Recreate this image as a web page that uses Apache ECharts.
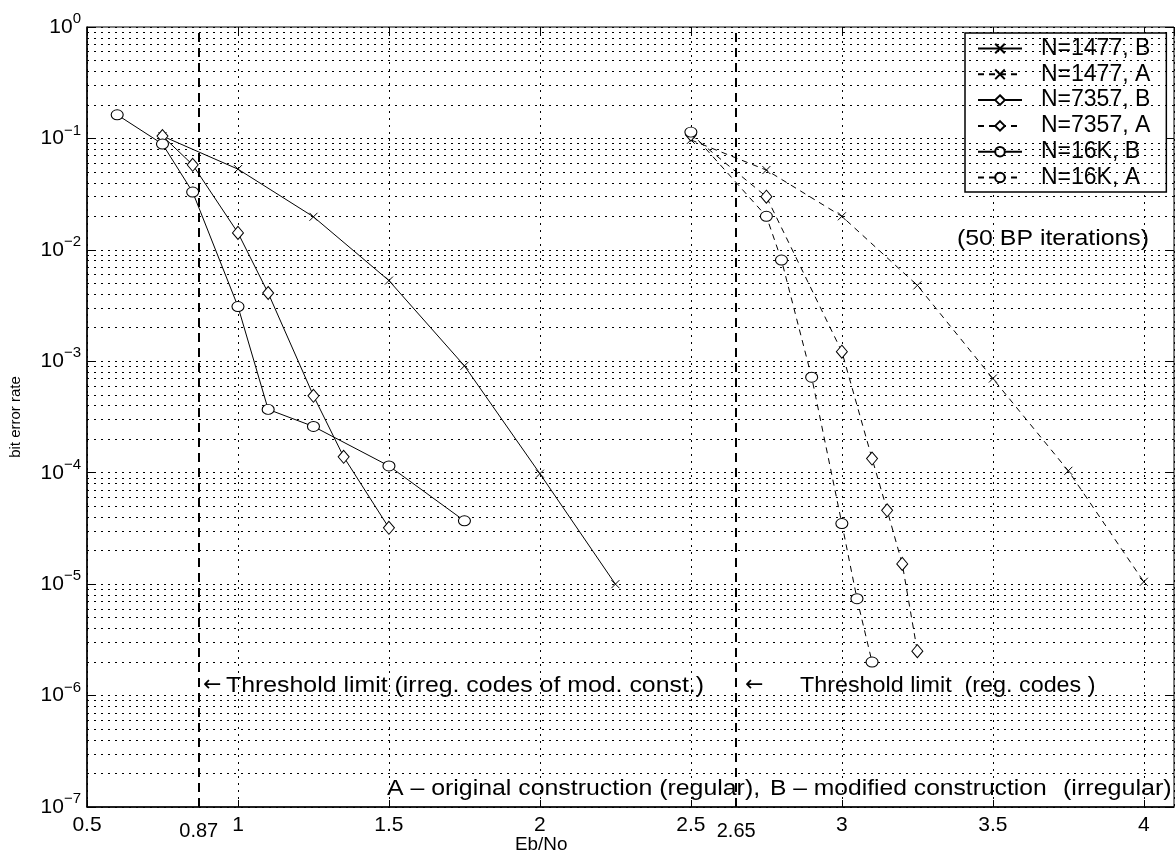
<!DOCTYPE html>
<html><head><meta charset="utf-8">
<script src="https://cdn.jsdelivr.net/npm/echarts@6/dist/echarts.min.js"></script>
<style>html,body{margin:0;padding:0;background:#fff}#c{width:1176px;height:855px}</style>
</head><body><div id="c"></div>
<script>
// ---- data ----
const seriesNames = ['N=1477, B','N=1477, A','N=7357, B','N=7357, A','N=16K, B','N=16K, A'];
const x1477B = [0.75,1.0,1.25,1.5,1.75,2.0,2.25];
const y1477B = [0.105,0.053,0.0198,0.0053,0.00091,9.8e-5,1.0e-5];
const x1477A = [2.5,2.75,3.0,3.25,3.5,3.75,4.0];
const y1477A = [0.097,0.052,0.020,0.0048,0.0007,1.04e-4,1.05e-5];
const x7357B = [0.75,0.85,1.0,1.1,1.25,1.35,1.5];
const y7357B = [0.105,0.058,0.0142,0.0041,0.00049,1.39e-4,3.2e-5];
const x7357A = [2.5,2.75,3.0,3.1,3.15,3.2,3.25];
const y7357A = [0.108,0.030,0.00122,1.34e-4,4.6e-5,1.52e-5,2.5e-6];
const x16KB = [0.6,0.75,0.85,1.0,1.1,1.25,1.5,1.75];
const y16KB = [0.163,0.089,0.033,0.0031,0.00037,0.00026,1.15e-4,3.7e-5];
const x16KA = [2.5,2.75,2.8,2.9,3.0,3.05,3.1];
const y16KA = [0.114,0.020,0.0081,0.00072,3.5e-5,7.4e-6,2.0e-6];
const thresholds = [0.87, 2.65];
const xTicks = [0.5,1,1.5,2,2.5,3,3.5,4];
const yMinorGrid = [];
for (let e = -7; e < 0; e++) for (let m = 2; m <= 9; m++) yMinorGrid.push(m * Math.pow(10, e));

// ---- chart ----
const FONT = 'Liberation Sans';
const zip = (xs, ys) => xs.map((x, i) => [x, ys[i]]);
const xSym = 'path://M0,0L10,10M10,0L0,10';
function mk(name, xs, ys, sym, dashed, size) {
  return {
    name, type: 'line', data: zip(xs, ys), symbol: sym, symbolSize: size,
    lineStyle: {color: '#000', width: 1, type: dashed ? [6, 5] : 'solid'},
    itemStyle: {color: '#fff', borderColor: '#000', borderWidth: 1},
    emphasis: {disabled: true}, z: 5
  };
}
function txt(x, y, s, size, sx, fam) {
  return {type: 'text', x: x, y: y, scaleX: sx || 1,
    style: {text: s, font: size + 'px "' + (fam || FONT) + '"', fill: '#000', textVerticalAlign: 'middle'}};
}
const dotted = {color: '#000', width: 1, type: [2, 5]};
const chart = echarts.init(document.getElementById('c'), null, {renderer: 'canvas'});
chart.setOption({
  animation: false,
  backgroundColor: '#fff',
  textStyle: {fontFamily: FONT, color: '#000'},
  grid: {left: 84, right: 2, top: 27, bottom: 48, show: true, borderColor: '#000', borderWidth: 1, backgroundColor: 'transparent'},
  xAxis: [{
    type: 'value', min: 0.5, max: 4.1, interval: 0.5,
    axisLine: {show: true, lineStyle: {color: '#000', width: 1.5}},
    axisTick: {show: true, inside: true, length: 7, lineStyle: {color: '#000'}},
    axisLabel: {color: '#000', fontSize: 21, fontFamily: FONT, margin: 8, showMaxLabel: false,
      formatter: v => xTicks.includes(+v.toFixed(2)) ? String(v) : ''},
    splitLine: {show: true, lineStyle: dotted}
  }, {
    type: 'value', position: 'top', min: 0.5, max: 4.1, interval: 0.5,
    axisLine: {show: false}, axisLabel: {show: false}, splitLine: {show: false},
    axisTick: {show: true, inside: true, length: 7, lineStyle: {color: '#000'}}
  }],
  yAxis: [{
    type: 'log', logBase: 10, min: 1e-7, max: 1,
    name: 'bit error rate', nameLocation: 'middle', nameGap: 64,
    nameTextStyle: {fontSize: 15, color: '#000', fontFamily: FONT},
    axisLine: {show: true, lineStyle: {color: '#000', width: 1.5}},
    axisTick: {show: true, inside: true, length: 7, lineStyle: {color: '#000'}},
    axisLabel: {color: '#000', margin: 6,
      formatter: v => { const e = Math.round(Math.log10(v)); return '{b|10}{s|' + (e < 0 ? '\u2212' + (-e) : e) + '}'; },
      rich: {b: {fontSize: 21, fontFamily: FONT, color: '#000'}, s: {fontSize: 15, fontFamily: FONT, color: '#000', padding: [0, 0, 16, 0]}}},
    splitLine: {show: true, lineStyle: dotted}
  }, {
    type: 'log', logBase: 10, min: 1e-7, max: 1, position: 'right',
    axisLine: {show: false}, axisLabel: {show: false}, splitLine: {show: false},
    axisTick: {show: true, inside: true, length: 7, lineStyle: {color: '#000'}}
  }],
  legend: {
    left: 965, top: 33, orient: 'vertical', align: 'left',
    backgroundColor: '#fff', borderColor: '#000', borderWidth: 1.5, borderRadius: 0,
    padding: [4, 16, 3, 12], itemWidth: 44, itemHeight: 12, itemGap: 2.8,
    textStyle: {fontSize: 23, lineHeight: 22, fontFamily: FONT, color: '#000', padding: [0, 0, 0, 14]},
    data: seriesNames
  },
  series: [
    {type: 'line', data: [], silent: true, markLine: {silent: true, symbol: 'none', animation: false, precision: 12,
      label: {show: false}, lineStyle: dotted, data: yMinorGrid.map(v => ({yAxis: v}))}},
    mk(seriesNames[0], x1477B, y1477B, xSym, false, 8),
    mk(seriesNames[1], x1477A, y1477A, xSym, true, 8),
    mk(seriesNames[2], x7357B, y7357B, 'diamond', false, [11, 13]),
    mk(seriesNames[3], x7357A, y7357A, 'diamond', true, [11, 13]),
    mk(seriesNames[4], x16KB, y16KB, 'circle', false, [12, 10]),
    mk(seriesNames[5], x16KA, y16KA, 'circle', true, [12, 10]),
    {type: 'line', data: [], silent: true, markLine: {silent: true, symbol: 'none', animation: false,
      lineStyle: {color: '#000', width: 2, type: [9, 6]},
      label: {show: true, position: 'start', distance: 14, fontSize: 20, fontFamily: FONT, color: '#000',
        formatter: p => String(p.value)},
      data: thresholds.map(v => ({xAxis: v}))}}
  ],
  graphic: [
    txt(203, 685, '\u2190', 22, 1, 'DejaVu Sans'),
    txt(226, 686, 'Threshold limit (irreg. codes of mod. const.)', 22, 1.13),
    txt(745, 685, '\u2190', 22, 1, 'DejaVu Sans'),
    txt(800, 686, 'Threshold limit  (reg. codes )', 22, 1.06),
    txt(957, 239, '(50 BP iterations)', 22, 1.13),
    txt(387, 789, 'A \u2013 original construction (regular),', 22, 1.13),
    txt(770, 789, 'B \u2013 modified construction', 22, 1.12),
    txt(1063, 789, '(irregular)', 22, 1.14),
    txt(515, 845, 'Eb/No', 18, 1.05)
  ]
});
</script></body></html>
